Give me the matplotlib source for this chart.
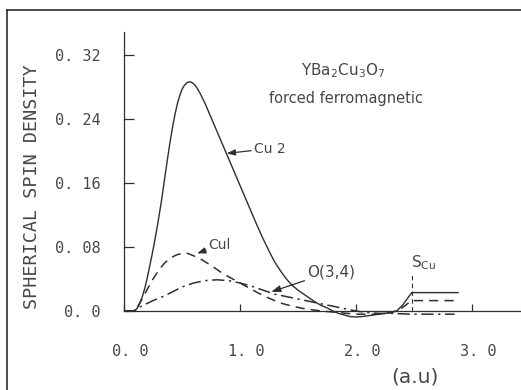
import matplotlib
matplotlib.use("Agg")
import matplotlib.pyplot as plt
from matplotlib.lines import Line2D
from matplotlib.transforms import ScaledTranslation

plt.rcParams["mathtext.fontset"] = "dejavusans"

# ---- data ----
r_cu2 = [0.0, 0.08, 0.10, 0.12, 0.14, 0.16, 0.18, 0.20, 0.22, 0.24, 0.26, 0.28, 0.30,
         0.32, 0.34, 0.36, 0.38, 0.40, 0.42, 0.44, 0.46, 0.48, 0.50, 0.52, 0.54,
         0.56, 0.58, 0.60, 0.62, 0.64, 0.66, 0.70, 0.75, 0.80, 0.85, 0.90, 0.95,
         1.00, 1.05, 1.10, 1.15, 1.20, 1.25, 1.30, 1.35, 1.40, 1.45, 1.50, 1.55,
         1.60, 1.65, 1.70, 1.75, 1.80, 1.85, 1.90, 1.95, 2.00, 2.05, 2.10, 2.15,
         2.20, 2.25, 2.30, 2.35, 2.40, 2.44, 2.48, 2.88]
v_cu2 = [0.0, 0.0, 0.001, 0.005, 0.011, 0.019, 0.029, 0.041, 0.055, 0.069, 0.084, 0.100, 0.117,
         0.135, 0.155, 0.175, 0.195, 0.214, 0.231, 0.246, 0.259, 0.269, 0.277, 0.282, 0.285,
         0.2865, 0.286, 0.284, 0.281, 0.276, 0.271, 0.259, 0.242, 0.225, 0.208, 0.191, 0.174,
         0.157, 0.140, 0.123, 0.106, 0.090, 0.075, 0.061, 0.050, 0.040, 0.032, 0.026, 0.021,
         0.016, 0.011, 0.007, 0.004, 0.000, -0.003, -0.005, -0.007, -0.0075, -0.007, -0.006, -0.005,
         -0.004, -0.003, -0.002, 0.000, 0.007, 0.015, 0.023, 0.023]

r_cu1 = [0.0, 0.08, 0.12, 0.16, 0.20, 0.25, 0.30, 0.35, 0.40, 0.45, 0.50, 0.55, 0.60,
         0.65, 0.75, 0.85, 0.95, 1.05, 1.15, 1.25, 1.35, 1.45, 1.55, 1.70, 1.85,
         2.00, 2.15, 2.30, 2.38, 2.48, 2.88]
v_cu1 = [0.0, 0.0, 0.006, 0.016, 0.027, 0.040, 0.051, 0.060, 0.066, 0.070, 0.072, 0.072, 0.069,
         0.066, 0.057, 0.047, 0.039, 0.031, 0.023, 0.016, 0.010, 0.006, 0.003, 0.000, -0.002,
         -0.004, -0.004, -0.002, 0.002, 0.013, 0.013]

r_o34 = [0.0, 0.08, 0.15, 0.25, 0.35, 0.50, 0.60, 0.70, 0.80, 0.90, 1.00, 1.10, 1.20,
         1.30, 1.40, 1.50, 1.60, 1.70, 1.80, 1.90, 2.00, 2.10, 2.20, 2.30, 2.48, 2.85]
v_o34 = [0.0, 0.0, 0.006, 0.013, 0.019, 0.030, 0.035, 0.038, 0.039, 0.038, 0.035, 0.031, 0.026,
         0.021, 0.018, 0.015, 0.012, 0.009, 0.006, 0.003, 0.000, -0.002, -0.003, -0.003, -0.004, -0.004]

s_cu = 2.48
yticks = [0.0, 0.08, 0.16, 0.24, 0.32]
ytick_labels = ["0. 0", "0. 08", "0. 16", "0. 24", "0. 32"]
xticks = [0.0, 1.0, 2.0, 3.0]
xtick_labels = ["0. 0", "1. 0", "2. 0", "3. 0"]

W, H = 521, 390
fig = plt.figure(figsize=(W / 100, H / 100), dpi=100)
fig.patch.set_facecolor("white")

ink = "#2e2e2e"
txt = "#474747"
mono = "DejaVu Sans Mono"
sans = "DejaVu Sans"

# outer frame (left and top edges visible)
fig.add_artist(Line2D([7 / W, 7 / W], [0, 1 - 10 / H], transform=fig.transFigure, color=ink, lw=1.2))
fig.add_artist(Line2D([7 / W, 1], [1 - 10 / H, 1 - 10 / H], transform=fig.transFigure, color=ink, lw=1.2))

# axes: x=0 at px 124, 116 px per unit; y: 0 at px 311, 64 px per 0.08
ax = fig.add_axes([124 / W, (H - 327) / H, (W - 124) / W, 295 / H])
ax.set_xlim(0, (W - 124) / 116)
ax.set_ylim(-0.02, 0.34875)
ax.patch.set_alpha(0)

for s in ["top", "right"]:
    ax.spines[s].set_visible(False)
ax.spines["bottom"].set_position(("data", 0))
ax.spines["left"].set_bounds(0, 0.349)
for s in ["bottom", "left"]:
    ax.spines[s].set_color(ink)
    ax.spines[s].set_linewidth(0.9)

ax.set_yticks(yticks)
ax.set_yticklabels(ytick_labels, fontfamily=mono, fontsize=11, color=txt)
ax.set_xticks(xticks)
ax.set_xticklabels(xtick_labels, fontfamily=mono, fontsize=11, color=txt)
ax.tick_params(axis="y", direction="in", length=7.5, width=0.9, color=ink, pad=17)
ax.tick_params(axis="x", direction="in", length=5, width=0.9, color=ink, pad=24)
off = ScaledTranslation(6 / 100, 0, fig.dpi_scale_trans)
for lab in ax.get_xticklabels():
    lab.set_transform(lab.get_transform() + off)

# curves
ax.plot(r_cu2, v_cu2, color=ink, lw=1.0)
ax.plot(r_cu1, v_cu1, color=ink, lw=1.1, linestyle=(0, (6, 4)))
ax.plot(r_o34, v_o34, color=ink, lw=1.1, linestyle=(0, (8, 3, 1.5, 3)))
ax.plot([s_cu, s_cu], [0.0, 0.047], color=ink, lw=0.8, linestyle=(0, (4, 3)))

arrowprops = dict(arrowstyle="-|>,head_length=0.5,head_width=0.18", color=ink, lw=0.9,
                  shrinkA=0, shrinkB=0)
ax.annotate("Cu 2", xy=(0.885, 0.197), xytext=(1.12, 0.203), fontsize=10, family=sans,
            color=txt, va="center", ha="left", arrowprops=arrowprops)
ax.annotate("Cul", xy=(0.63, 0.072), xytext=(0.73, 0.082), fontsize=10, family=sans,
            color=txt, va="center", ha="left", arrowprops=arrowprops)
ax.annotate("O(3,4)", xy=(1.27, 0.024), xytext=(1.58, 0.049), fontsize=11, family=sans,
            color=txt, va="center", ha="left", arrowprops=arrowprops)
ax.text(2.47, 0.061, r"S$_{\mathrm{Cu}}$", fontsize=11, family=sans, color=txt,
        ha="left", va="center")

ax.text(1.89, 0.30, r"YBa$_2$Cu$_3$O$_7$", fontsize=11, family=sans, color=txt,
        ha="center", va="center")
ax.text(1.91, 0.266, "forced ferromagnetic", fontsize=10.5, family=sans, color=txt,
        ha="center", va="center")

fig.text(32 / W, 1 - 187 / H, "SPHERICAL SPIN DENSITY", rotation=90, fontfamily=mono,
         fontsize=13.2, color=txt, ha="center", va="center")
fig.text(415 / W, 1 - 377 / H, "(a.u)", fontfamily=sans, fontsize=14.5, color=txt,
         ha="center", va="center")

fig.savefig("out.png", dpi=100)
